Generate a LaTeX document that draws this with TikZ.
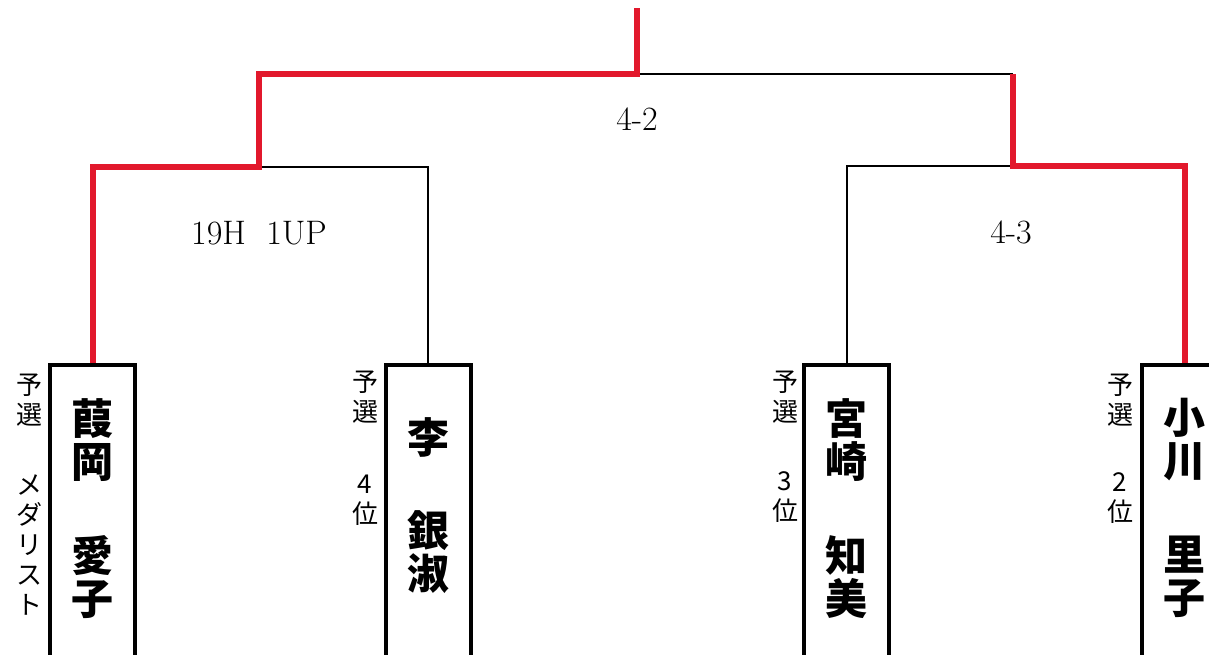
\documentclass[tikz,border=0pt]{standalone}
\usepackage{fontspec}
\newfontfamily\jpfont{Noto Sans CJK JP}
\definecolor{winred}{RGB}{226,24,44}
\tikzset{
  entrybox/.style={draw, line width=2pt, minimum width=42.5pt, minimum height=160pt, anchor=north, inner sep=0pt},
  namechars/.style={font=\jpfont\bfseries\fontsize{21}{21.5}\selectfont, align=center, inner sep=0pt},
  sidechars/.style={font=\jpfont\fontsize{13}{15}\selectfont, align=center, inner sep=0pt},
  score/.style={font=\fontsize{17}{20}\selectfont, inner sep=0pt},
  lose/.style={draw=black, line width=1pt},
  win/.style={draw=winred, line width=3pt, line join=miter},
}
\begin{document}
\begin{tikzpicture}[x=0.5pt,y=-0.5pt]
        \useasboundingbox (0,0) rectangle (1209,654);
        \clip (0,0) rectangle (1209,654);
        % entry boxes
        \node[entrybox] (kaya) at (92.5,363) {};
        \node[entrybox] (li) at (428,363) {};
        \node[entrybox] (miya) at (846.5,363) {};
        \node[entrybox] (ogawa) at (1184.5,363) {};
        % names
        \node[namechars] (kaya1) at (92.5,440) {葭\\岡};
        \node[namechars] (kaya2) at (92.5,577) {愛\\子};
        \node[namechars] (li1) at (428,437) {李};
        \node[namechars] (li2) at (428,552) {銀\\淑};
        \node[namechars] (miya1) at (846.5,440) {宮\\崎};
        \node[namechars] (miya2) at (846.5,577) {知\\美};
        \node[namechars] (ogawa1) at (1184.5,440) {小\\川};
        \node[namechars] (ogawa2) at (1184.5,577) {里\\子};
        % qualifying results
        \node[sidechars] (kayaq) at (30,400) {予\\選};
        \node[sidechars] (kayar) at (30,545) {メ\\ダ\\リ\\ス\\ト};
        \node[sidechars] (liq) at (365,397) {予\\選};
        \node[sidechars] (lir) at (365,500) {4\\位};
        \node[sidechars] (miyaq) at (785,397) {予\\選};
        \node[sidechars] (miyar) at (785,497) {3\\位};
        \node[sidechars] (ogawaq) at (1120,400) {予\\選};
        \node[sidechars] (ogawar) at (1120,498) {2\\位};
        % junctions
        \coordinate (semiL) at (259,167);
        \coordinate (semiR) at (1013,166);
        \coordinate (final) at (637,74);
        \coordinate (champ) at (637,8);
        % scores
        \node[score] (scoreL) at (259,233) {19H\hspace{0.6em}1UP};
        \node[score] (scoreR) at (1011,232) {4-3};
        \node[score] (scoreF) at (637,119) {4-2};
        % bracket lines
        \draw[lose] (li.north) |- (semiL);
        \draw[lose] (miya.north) |- (semiR);
        \draw[lose] (final) -- (semiR |- final);
        \draw[win] (kaya.north) |- (semiL) |- (final) -- (champ);
        \draw[win] (ogawa.north) |- (semiR) -- (semiR |- final);
\end{tikzpicture}
\end{document}
